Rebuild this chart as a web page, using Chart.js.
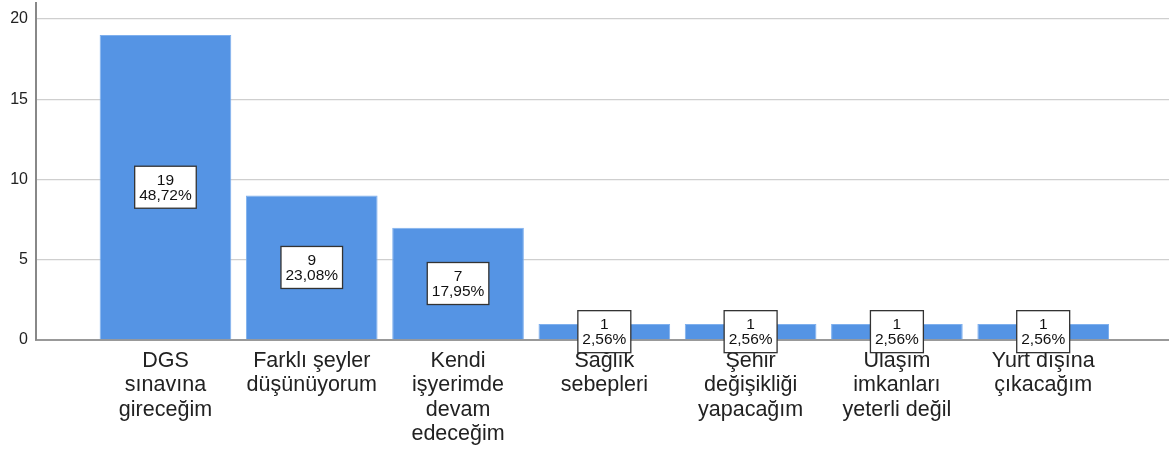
<!DOCTYPE html>
<html>
<head>
<meta charset="utf-8">
<script src="https://cdn.jsdelivr.net/npm/chart.js@4/dist/chart.umd.min.js"></script>
<style>
  body { margin: 0; background: #fff; }
  #wrap { width: 1169px; height: 451px; }
</style>
</head>
<body>
<div id="wrap"><canvas id="chart" width="1169" height="451"></canvas></div>
<script>
// categories, split into the lines they are drawn with
const categories = [
    ['DGS', 'sınavına', 'gireceğim'],
    ['Farklı şeyler', 'düşünüyorum'],
    ['Kendi', 'işyerimde', 'devam', 'edeceğim'],
    ['Sağlık', 'sebepleri'],
    ['Şehir', 'değişikliği', 'yapacağım'],
    ['Ulaşım', 'imkanları', 'yeterli değil'],
    ['Yurt dışına', 'çıkacağım']
];
const counts = [19, 9, 7, 1, 1, 1, 1];
const percents = [48.72, 23.08, 17.95, 2.56, 2.56, 2.56, 2.56];
const yTicks = [0, 5, 10, 15, 20];

const fontFamily = '"Liberation Sans", Arial, sans-serif';

// boxes with count and percent in the middle of each bar
const boxLabels = {
    id: 'boxLabels',
    afterDatasetsDraw(chart) {
        const ctx = chart.ctx;
        const meta = chart.getDatasetMeta(0);
        ctx.save();
        ctx.font = '15.5px ' + fontFamily;
        ctx.textAlign = 'center';
        ctx.textBaseline = 'middle';
        meta.data.forEach((bar, i) => {
            const l1 = String(counts[i]);
            const l2 = percents[i].toFixed(2).replace('.', ',') + '%';
            const w = Math.max(ctx.measureText(l1).width, ctx.measureText(l2).width) + 9;
            const h = 42;
            const cx = bar.x;
            const cy = (bar.y + bar.base) / 2;
            ctx.fillStyle = '#fff';
            ctx.fillRect(cx - w / 2, cy - h / 2, w, h);
            ctx.strokeStyle = '#333';
            ctx.lineWidth = 1.3;
            ctx.strokeRect(cx - w / 2, cy - h / 2, w, h);
            ctx.fillStyle = '#111';
            ctx.fillText(l1, cx, cy - 7);
            ctx.fillText(l2, cx, cy + 8);
        });
        ctx.restore();
    }
};

function noPad(scale) {
    scale.paddingTop = 0;
    scale.paddingBottom = 0;
    scale.paddingLeft = 0;
    scale.paddingRight = 0;
}

new Chart(document.getElementById('chart').getContext('2d'), {
    type: 'bar',
    data: {
        datasets: [{
            data: counts.map((v, i) => ({ x: i, y: v })),
            backgroundColor: '#5594e4',
            borderColor: '#7fb0ee',
            borderWidth: 1,
            barPercentage: 0.9,
            categoryPercentage: 1
        }]
    },
    options: {
        responsive: false,
        animation: false,
        layout: { padding: { top: 3, right: 0, left: 0, bottom: 0 } },
        plugins: {
            legend: { display: false },
            tooltip: { enabled: false }
        },
        scales: {
            x: {
                type: 'linear',
                offset: false,
                min: -0.885,
                max: 6.86,
                afterBuildTicks: (scale) => {
                    scale.ticks = categories.map((c, i) => ({ value: i }));
                },
                afterFit: (scale) => { scale.height = 111; noPad(scale); },
                grid: { display: false, drawTicks: false },
                border: { color: '#999', width: 2 },
                ticks: {
                    autoSkip: false,
                    maxRotation: 0,
                    padding: 9,
                    color: '#222',
                    font: { family: fontFamily, size: 21.5, lineHeight: 1.13 },
                    callback: (v) => categories[v]
                }
            },
            y: {
                min: 0,
                max: 21,
                afterBuildTicks: (scale) => {
                    scale.ticks = yTicks.map(v => ({ value: v }));
                },
                afterFit: (scale) => { scale.width = 36; noPad(scale); },
                grid: { color: '#cfcfcf', lineWidth: 1.3, drawTicks: false },
                border: { color: '#888', width: 2 },
                ticks: {
                    padding: 8,
                    color: '#222',
                    font: { family: fontFamily, size: 16 }
                }
            }
        }
    },
    plugins: [boxLabels]
});
</script>
</body>
</html>
